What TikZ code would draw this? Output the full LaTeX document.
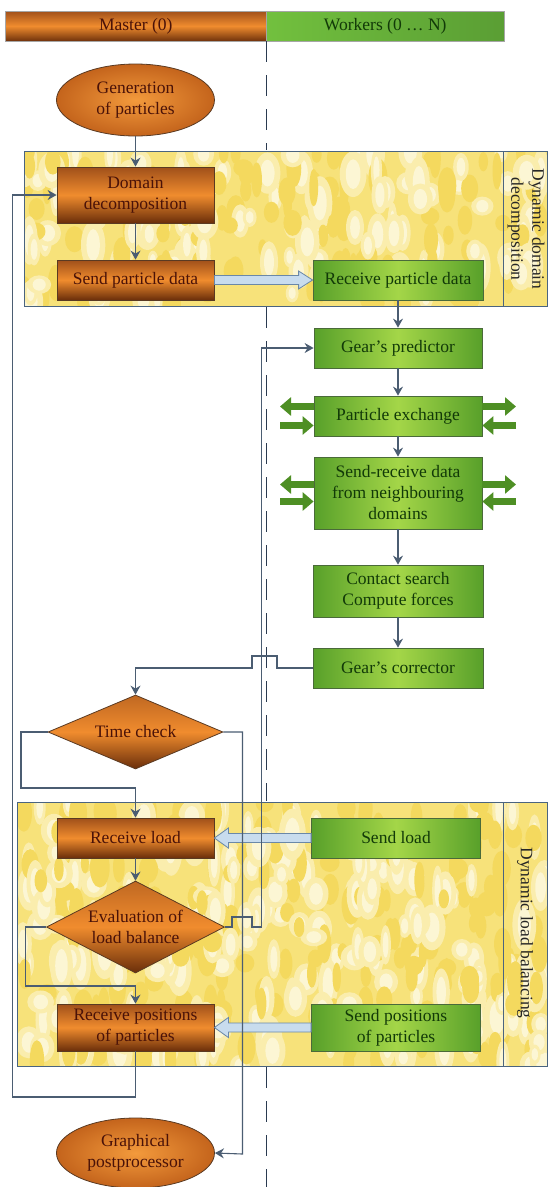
\documentclass[tikz,border=0pt]{standalone}
\usepackage{fontspec}
\setmainfont{Liberation Serif}
\usetikzlibrary{shapes.geometric,arrows.meta,calc}
\definecolor{obtop}{HTML}{A0501A}
\definecolor{obmid}{HTML}{F08C2E}
\definecolor{obbot}{HTML}{6A2E0A}
\definecolor{obtext}{HTML}{4A1208}
\definecolor{obline}{HTML}{5A3A22}
\definecolor{ovalin}{HTML}{F39A3C}
\definecolor{ovalout}{HTML}{C4641C}
\definecolor{gside}{HTML}{58A02A}
\definecolor{gmid}{HTML}{A4D648}
\definecolor{gline}{HTML}{4A6A3A}
\definecolor{gtext}{HTML}{123A08}
\definecolor{hdrgl}{HTML}{72C03E}
\definecolor{hdrgr}{HTML}{5A9E34}
\definecolor{conncol}{HTML}{4B5D72}
\definecolor{lanecol}{HTML}{2A3A50}
\definecolor{hollowfill}{HTML}{C8DCEE}
\definecolor{hollowline}{HTML}{6A88A8}
\definecolor{garrow}{HTML}{4E8F24}
\definecolor{panelbase}{HTML}{F7E27A}
\definecolor{paneldark}{HTML}{EEC82A}
\definecolor{panelline}{HTML}{4A6480}
\colorlet{blobA}{paneldark!35!panelbase}
\colorlet{blobB}{white!38!panelbase}
\colorlet{blobC}{white!68!panelbase}
\newcommand{\boxfont}{\fontsize{17.5}{21}\selectfont}
\newcommand{\mottle}[5]{% x0, y0, width, height, count
  \foreach \i in {1,...,#5} {
    \pgfmathsetmacro{\xx}{#1+rnd*#3}
    \pgfmathsetmacro{\yy}{#2+rnd*#4}
    \pgfmathsetmacro{\rx}{4+rnd*6}
    \pgfmathsetmacro{\ry}{8+rnd*12}
    \fill[blobA] (\xx,\yy) ellipse ({\rx pt} and {\ry pt});
    \pgfmathsetmacro{\xx}{#1+rnd*#3}
    \pgfmathsetmacro{\yy}{#2+rnd*#4}
    \pgfmathsetmacro{\rx}{5+rnd*9}
    \pgfmathsetmacro{\ry}{9+rnd*18}
    \fill[blobB] (\xx,\yy) ellipse ({\rx pt} and {\ry pt});
    \pgfmathsetmacro{\rx}{0.55*\rx}
    \pgfmathsetmacro{\ry}{0.65*\ry}
    \fill[blobC] (\xx,\yy) ellipse ({\rx pt} and {\ry pt});
  }}
\begin{document}
\begin{tikzpicture}[x=1pt,y=-1pt,
  orangebox/.style={draw=obline, line width=0.8pt, top color=obtop, bottom color=obbot, middle color=obmid,
    text=obtext, font=\boxfont, align=center, inner sep=0pt, minimum width=157pt, minimum height=40pt},
  greenbox/.style={draw=gline, line width=0.8pt, left color=gside, right color=gside, middle color=gmid,
    text=gtext, font=\boxfont, align=center, inner sep=0pt, minimum width=170pt, minimum height=40pt},
  oval/.style={ellipse, draw=obline, line width=0.8pt, inner color=ovalin, outer color=ovalout,
    text=obtext, font=\boxfont, align=center, inner sep=0pt, minimum width=158pt, minimum height=72pt},
  decision/.style={diamond, draw=obline, line width=0.8pt, top color=obtop!60!obmid, bottom color=obbot, middle color=obmid,
    inner sep=0pt, label={[text=obtext, font=\boxfont, align=center]center:#1}},
  conn/.style={draw=conncol, line width=1.1pt, -{Stealth[length=9pt,width=10pt,inset=3pt]}},
  hollowarrow/.style={draw=hollowline, line width=0.8pt, fill=hollowfill},
  greenarrow/.style={draw=garrow, line width=7pt, -{Triangle[length=11pt,width=18pt]}},
  panel/.style={draw=panelline, line width=1pt},
  lane/.style={draw=lanecol, line width=1.3pt, dash pattern=on 21pt off 13pt}
]
\useasboundingbox (0,0) rectangle (555,1187);
\fill[white] (0,0) rectangle (555,1187);

% header
\node[draw=gray!70, line width=0.6pt, top color=obtop, bottom color=obbot!90!obtop, middle color=obmid,
  minimum width=261.5pt, minimum height=30pt, inner sep=0pt, font=\boxfont, text=obtext] (hm) at (135.75,26) {Master (0)};
\node[draw=gray!70, line width=0.6pt, left color=hdrgl, right color=hdrgr,
  minimum width=237.5pt, minimum height=30pt, inner sep=0pt, font=\boxfont, text=gtext] (hw) at (385.25,26) {Workers (0 … N)};

% panels with mottled texture
\pgfmathsetseed{11}
\begin{scope}
\clip (24,151) rectangle (547,306);
\fill[panelbase] (24,151) rectangle (547,306);
\mottle{24}{151}{523}{155}{120}
\end{scope}
\draw[panel] (24,151) rectangle (547,306);
\draw[panel] (503,151) -- (503,306);
\node[rotate=-90, font=\boxfont, align=center, text=black!85] (lbl1) at (526,229) {Dynamic domain\\decomposition};

\begin{scope}
\clip (17.7,802) rectangle (547,1066);
\fill[panelbase] (17.7,802) rectangle (547,1066);
\mottle{17.7}{802}{530}{264}{210}
\end{scope}
\draw[panel] (17.7,802) rectangle (547,1066);
\draw[panel] (503,802) -- (503,1066);
\node[rotate=-90, font=\boxfont, text=black!85] (lbl2) at (525,933) {Dynamic load balancing};

% lane separator: only in the gaps between the panels
\coordinate (laneA) at (266.5,41);
\coordinate (laneB) at (266.5,150);
\coordinate (laneC) at (266.5,307);
\coordinate (laneD) at (266.5,801);
\coordinate (laneE) at (266.5,1067);
\coordinate (laneF) at (266.5,1187);
\draw[lane] (laneA) -- (laneB);
\draw[lane] (laneC) -- (laneD);
\draw[lane] (laneE) -- (laneF);

% nodes: master
\node[oval] (gen) at (135.5,100) {Generation\\of particles};
\node[orangebox, minimum height=56pt] (dd) at (135.5,195) {Domain\\decomposition};
\node[orangebox] (spd) at (135.5,280) {Send particle data};
\node[decision={Time check}, minimum width=175pt, minimum height=74pt] (tc) at (135.5,732) {};
\node[orangebox] (rl) at (135.5,838) {Receive load};
\node[decision={Evaluation of\\load balance}, minimum width=178pt, minimum height=92pt] (ev) at (135.5,927) {};
\node[orangebox, minimum height=47pt] (rp) at (135.5,1027.5) {Receive positions\\of particles};
\node[oval, minimum height=70pt] (post) at (135.5,1153) {Graphical\\postprocessor};

% nodes: workers
\node[greenbox] (rpd) at (398,280) {Receive particle data};
\node[greenbox, minimum width=168pt] (gp) at (398,348) {Gear's predictor};
\node[greenbox, minimum width=168pt] (pe) at (398,416) {Particle exchange};
\node[greenbox, minimum width=168pt, minimum height=72pt] (sr) at (398,493) {Send-receive data\\from neighbouring\\domains};
\node[greenbox, minimum height=52pt] (cs) at (398,591) {Contact search\\Compute forces};
\node[greenbox] (gc) at (398,668) {Gear's corrector};
\node[greenbox, minimum width=169pt] (sl) at (396,838) {Send load};
\node[greenbox, minimum width=169pt, minimum height=47pt] (sp) at (396,1027.5) {Send positions\\of particles};

% exchange arrows (green)
\coordinate (peL1) at (280,406.5);
\coordinate (peL2) at (280,425.5);
\coordinate (peR1) at (516,406.5);
\coordinate (peR2) at (516,425.5);
\coordinate (srL1) at (280,484.5);
\coordinate (srL2) at (280,501.5);
\coordinate (srR1) at (516,484.5);
\coordinate (srR2) at (516,501.5);
\draw[greenarrow] (pe.west |- peL1) -- (peL1);
\draw[greenarrow] (peL2) -- (pe.west |- peL2);
\draw[greenarrow] (pe.east |- peR1) -- (peR1);
\draw[greenarrow] (peR2) -- (pe.east |- peR2);
\draw[greenarrow] (sr.west |- srL1) -- (srL1);
\draw[greenarrow] (srL2) -- (sr.west |- srL2);
\draw[greenarrow] (sr.east |- srR1) -- (srR1);
\draw[greenarrow] (srR2) -- (sr.east |- srR2);

% hollow transfer arrows
\draw[hollowarrow] ($(spd.east)+(0,4.5)$) -- ($(rpd.west)+(-14,4.5)$) -- ($(rpd.west)+(-14,9)$) -- (rpd.west)
  -- ($(rpd.west)+(-14,-9)$) -- ($(rpd.west)+(-14,-4.5)$) -- ($(spd.east)+(0,-4.5)$) -- cycle;
\draw[hollowarrow] ($(sl.west)+(0,4.5)$) -- ($(rl.east)+(14,4.5)$) -- ($(rl.east)+(14,10)$) -- (rl.east)
  -- ($(rl.east)+(14,-10)$) -- ($(rl.east)+(14,-4.5)$) -- ($(sl.west)+(0,-4.5)$) -- cycle;
\draw[hollowarrow] ($(sp.west)+(0,4.5)$) -- ($(rp.east)+(14,4.5)$) -- ($(rp.east)+(14,10)$) -- (rp.east)
  -- ($(rp.east)+(14,-10)$) -- ($(rp.east)+(14,-4.5)$) -- ($(sp.west)+(0,-4.5)$) -- cycle;

% connectors
\draw[conn] (gen) -- (dd);
\draw[conn] (dd) -- (spd);
\draw[conn] (rpd) -- (gp);
\draw[conn] (gp) -- (pe);
\draw[conn] (pe) -- (sr);
\draw[conn] (sr) -- (cs);
\draw[conn] (cs) -- (gc);
\draw[conn] (gc.west) -- (277,668) -- (277,656) -- (252,656) -- (252,668) -- (135.5,668) -- (tc.north);
\draw[conn] (tc.west) -- (21,732) -- (21,788) -- (135.5,788) -- (rl.north);
\draw[conn] (tc.east) -- (242.5,732) -- (242.5,1154) -- (post.east);
\draw[conn] (rl) -- (ev);
\draw[conn] (ev.west) -- (25.5,927) -- (25.5,986) -- (135.5,986) -- (rp.north);
\draw[conn] (ev.east) -- (232,927) -- (232,917) -- (252,917) -- (252,927) -- (261.7,927) -- (261.7,348) -- (gp.west);
\draw[conn] (rp.south) -- (135.5,1097) -- (12.7,1097) -- (12.7,195) -- (dd.west);
\end{tikzpicture}
\end{document}
